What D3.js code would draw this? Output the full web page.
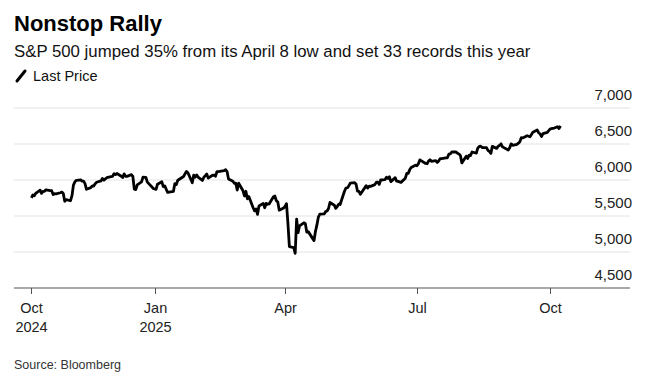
<!DOCTYPE html>
<html>
<head>
<meta charset="utf-8">
<script src="https://cdn.jsdelivr.net/npm/d3@7"></script>
<style>
  html, body { margin: 0; padding: 0; background: #fff; }
  svg { display: block; font-family: "Liberation Sans", Arial, sans-serif; }
</style>
</head>
<body>
<div id="chart"></div>
<script>
// S&P 500 daily close, Oct 2024 - Oct 2025
const lastPrice = [
  ["2024-10-08",5751],["2024-10-09",5792],["2024-10-10",5780],["2024-10-11",5815],["2024-10-14",5859],
  ["2024-10-15",5815],["2024-10-16",5842],["2024-10-17",5841],["2024-10-18",5864],["2024-10-21",5853],
  ["2024-10-22",5851],["2024-10-23",5797],["2024-10-24",5809],["2024-10-25",5808],["2024-10-28",5823],
  ["2024-10-29",5832],["2024-10-30",5813],["2024-10-31",5705],["2024-11-01",5728],["2024-11-04",5712],
  ["2024-11-05",5782],["2024-11-06",5929],["2024-11-07",5973],["2024-11-08",5996],["2024-11-11",6001],
  ["2024-11-12",5984],["2024-11-13",5985],["2024-11-14",5949],["2024-11-15",5871],["2024-11-18",5894],
  ["2024-11-19",5917],["2024-11-20",5917],["2024-11-21",5949],["2024-11-22",5969],["2024-11-25",5987],
  ["2024-11-26",6021],["2024-11-27",5998],["2024-11-29",6032],["2024-12-02",6047],["2024-12-03",6050],
  ["2024-12-04",6087],["2024-12-05",6075],["2024-12-06",6090],["2024-12-09",6053],["2024-12-10",6034],
  ["2024-12-11",6085],["2024-12-12",6051],["2024-12-13",6051],["2024-12-16",6074],["2024-12-17",6050],
  ["2024-12-18",5872],["2024-12-19",5867],["2024-12-20",5931],["2024-12-23",5974],["2024-12-24",6040],
  ["2024-12-26",6037],["2024-12-27",5971],["2024-12-30",5907],["2024-12-31",5882],["2025-01-02",5869],
  ["2025-01-03",5942],["2025-01-06",5975],["2025-01-07",5909],["2025-01-08",5918],["2025-01-10",5827],
  ["2025-01-13",5837],["2025-01-14",5843],["2025-01-15",5950],["2025-01-16",5937],["2025-01-17",5997],
  ["2025-01-21",6049],["2025-01-22",6086],["2025-01-23",6119],["2025-01-24",6101],["2025-01-27",5962],
  ["2025-01-28",6068],["2025-01-29",6039],["2025-01-30",6071],["2025-01-31",6041],["2025-02-03",5994],
  ["2025-02-04",6038],["2025-02-05",6061],["2025-02-06",6083],["2025-02-07",6026],["2025-02-10",6066],
  ["2025-02-11",6069],["2025-02-12",6052],["2025-02-13",6115],["2025-02-14",6115],["2025-02-18",6129],
  ["2025-02-19",6144],["2025-02-20",6118],["2025-02-21",6013],["2025-02-24",5983],["2025-02-25",5955],
  ["2025-02-26",5956],["2025-02-27",5861],["2025-02-28",5955],["2025-03-03",5850],["2025-03-04",5778],
  ["2025-03-05",5843],["2025-03-06",5739],["2025-03-07",5770],["2025-03-10",5615],["2025-03-11",5572],
  ["2025-03-12",5599],["2025-03-13",5522],["2025-03-14",5639],["2025-03-17",5675],["2025-03-18",5615],
  ["2025-03-19",5675],["2025-03-20",5663],["2025-03-21",5668],["2025-03-24",5768],["2025-03-25",5777],
  ["2025-03-26",5712],["2025-03-27",5693],["2025-03-28",5581],["2025-03-31",5612],["2025-04-01",5633],
  ["2025-04-02",5671],["2025-04-03",5397],["2025-04-04",5074],["2025-04-07",5062],["2025-04-08",4982],
  ["2025-04-09",5457],["2025-04-10",5268],["2025-04-11",5363],["2025-04-14",5406],["2025-04-15",5397],
  ["2025-04-16",5276],["2025-04-17",5283],["2025-04-21",5158],["2025-04-22",5288],["2025-04-23",5376],
  ["2025-04-24",5485],["2025-04-25",5525],["2025-04-28",5529],["2025-04-29",5561],["2025-04-30",5569],
  ["2025-05-01",5604],["2025-05-02",5687],["2025-05-05",5650],["2025-05-06",5607],["2025-05-07",5631],
  ["2025-05-08",5664],["2025-05-09",5660],["2025-05-12",5844],["2025-05-13",5886],["2025-05-14",5892],
  ["2025-05-15",5917],["2025-05-16",5958],["2025-05-19",5964],["2025-05-20",5941],["2025-05-21",5845],
  ["2025-05-22",5842],["2025-05-23",5802],["2025-05-27",5922],["2025-05-28",5889],["2025-05-29",5913],
  ["2025-05-30",5912],["2025-06-02",5936],["2025-06-03",5970],["2025-06-04",5971],["2025-06-05",5939],
  ["2025-06-06",6000],["2025-06-09",6006],["2025-06-10",6038],["2025-06-11",6022],["2025-06-12",6045],
  ["2025-06-13",5977],["2025-06-16",6033],["2025-06-17",5983],["2025-06-18",5981],["2025-06-20",5967],
  ["2025-06-23",6025],["2025-06-24",6092],["2025-06-25",6092],["2025-06-26",6141],["2025-06-27",6173],
  ["2025-06-30",6205],["2025-07-01",6198],["2025-07-02",6227],["2025-07-03",6279],["2025-07-07",6230],
  ["2025-07-08",6226],["2025-07-09",6263],["2025-07-10",6280],["2025-07-11",6260],["2025-07-14",6269],
  ["2025-07-15",6244],["2025-07-16",6264],["2025-07-17",6297],["2025-07-18",6297],["2025-07-21",6306],
  ["2025-07-22",6309],["2025-07-23",6359],["2025-07-24",6363],["2025-07-25",6389],["2025-07-28",6390],
  ["2025-07-29",6371],["2025-07-30",6362],["2025-07-31",6339],["2025-08-01",6238],["2025-08-04",6330],
  ["2025-08-05",6299],["2025-08-06",6345],["2025-08-07",6340],["2025-08-08",6389],["2025-08-11",6374],
  ["2025-08-12",6446],["2025-08-13",6466],["2025-08-14",6469],["2025-08-15",6450],["2025-08-18",6449],
  ["2025-08-19",6412],["2025-08-20",6396],["2025-08-21",6370],["2025-08-22",6467],["2025-08-25",6439],
  ["2025-08-26",6466],["2025-08-27",6481],["2025-08-28",6502],["2025-08-29",6460],["2025-09-02",6416],
  ["2025-09-03",6448],["2025-09-04",6502],["2025-09-05",6482],["2025-09-08",6495],["2025-09-09",6512],
  ["2025-09-10",6532],["2025-09-11",6587],["2025-09-12",6584],["2025-09-15",6615],["2025-09-16",6607],
  ["2025-09-17",6600],["2025-09-18",6632],["2025-09-19",6664],["2025-09-22",6694],["2025-09-23",6656],
  ["2025-09-24",6638],["2025-09-25",6605],["2025-09-26",6644],["2025-09-29",6661],["2025-09-30",6688],
  ["2025-10-01",6711],["2025-10-02",6715],["2025-10-03",6716],["2025-10-06",6740],["2025-10-07",6715],
  ["2025-10-08",6753]
];
const yTicks = [4500, 5000, 5500, 6000, 6500, 7000];
const xTickDates = ["2024-10-08", "2025-01-01", "2025-04-01", "2025-07-01", "2025-10-01"];
const xTickLabels = [["Oct", "2024"], ["Jan", "2025"], ["Apr"], ["Jul"], ["Oct"]];

const W = 654, H = 376;
const parse = d3.timeParse("%Y-%m-%d");
const data = lastPrice.map(([d, v]) => ({ date: parse(d), value: v }));

const plot = { left: 14, right: 630, top: 108, bottom: 288 };

const x = d3.scaleTime()
  .domain([parse("2024-09-26"), parse("2025-11-25")])
  .range([plot.left, plot.right]);
const y = d3.scaleLinear().domain([4500, 7000]).range([plot.bottom, plot.top]);

const svg = d3.select("#chart").append("svg").attr("width", W).attr("height", H);

// Header
svg.append("text").attr("x", 14).attr("y", 31)
  .style("font-size", "22px").style("font-weight", 700).attr("fill", "#000")
  .text("Nonstop Rally");
svg.append("text").attr("x", 14).attr("y", 57)
  .style("font-size", "16.8px").attr("fill", "#111")
  .text("S&P 500 jumped 35% from its April 8 low and set 33 records this year");

// Legend
svg.append("line").attr("x1", 17).attr("y1", 81).attr("x2", 25).attr("y2", 71)
  .attr("stroke", "#000").attr("stroke-width", 3).attr("stroke-linecap", "round");
svg.append("text").attr("x", 33).attr("y", 81)
  .style("font-size", "14.5px").attr("fill", "#111").text("Last Price");

// Grid + right labels
const grid = svg.append("g");
grid.selectAll("line")
  .data(yTicks.filter((t) => t > 4500))
  .join("line")
  .attr("x1", plot.left).attr("x2", plot.right)
  .attr("y1", (d) => y(d)).attr("y2", (d) => y(d))
  .attr("stroke", "#e2e2e2").attr("stroke-width", 1);
grid.selectAll("text")
  .data(yTicks)
  .join("text")
  .attr("x", plot.right + 2)
  .attr("y", (d) => y(d) - 8)
  .attr("text-anchor", "end")
  .style("font-size", "15px")
  .attr("fill", "#222")
  .text((d) => d3.format(",")(d));

// Bottom axis
const xAxis = svg.append("g").attr("transform", `translate(0,${plot.bottom})`);
xAxis.append("line").attr("x1", plot.left).attr("x2", plot.right)
  .attr("stroke", "#555").attr("stroke-width", 1);
const ticks = xAxis.selectAll("g.tick")
  .data(xTickDates.map((d, i) => ({ date: parse(d), lines: xTickLabels[i] })))
  .join("g").attr("class", "tick")
  .attr("transform", (d) => `translate(${Math.round(x(d.date)) + 0.5},0)`);
ticks.append("line").attr("y1", 0).attr("y2", 6).attr("stroke", "#555");
ticks.each(function (d) {
  const g = d3.select(this);
  d.lines.forEach((t, i) => {
    g.append("text").attr("y", 25 + i * 19)
      .attr("text-anchor", "middle")
      .style("font-size", "14.5px").attr("fill", "#222").text(t);
  });
});

// Price line
svg.append("path")
  .datum(data)
  .attr("fill", "none")
  .attr("stroke", "#000")
  .attr("stroke-width", 2.8)
  .attr("stroke-linejoin", "round")
  .attr("d", d3.line().x((d) => x(d.date)).y((d) => y(d.value)));

// Source
svg.append("text").attr("x", 14).attr("y", 369)
  .style("font-size", "12.5px").attr("fill", "#333").text("Source: Bloomberg");
</script>
</body>
</html>
